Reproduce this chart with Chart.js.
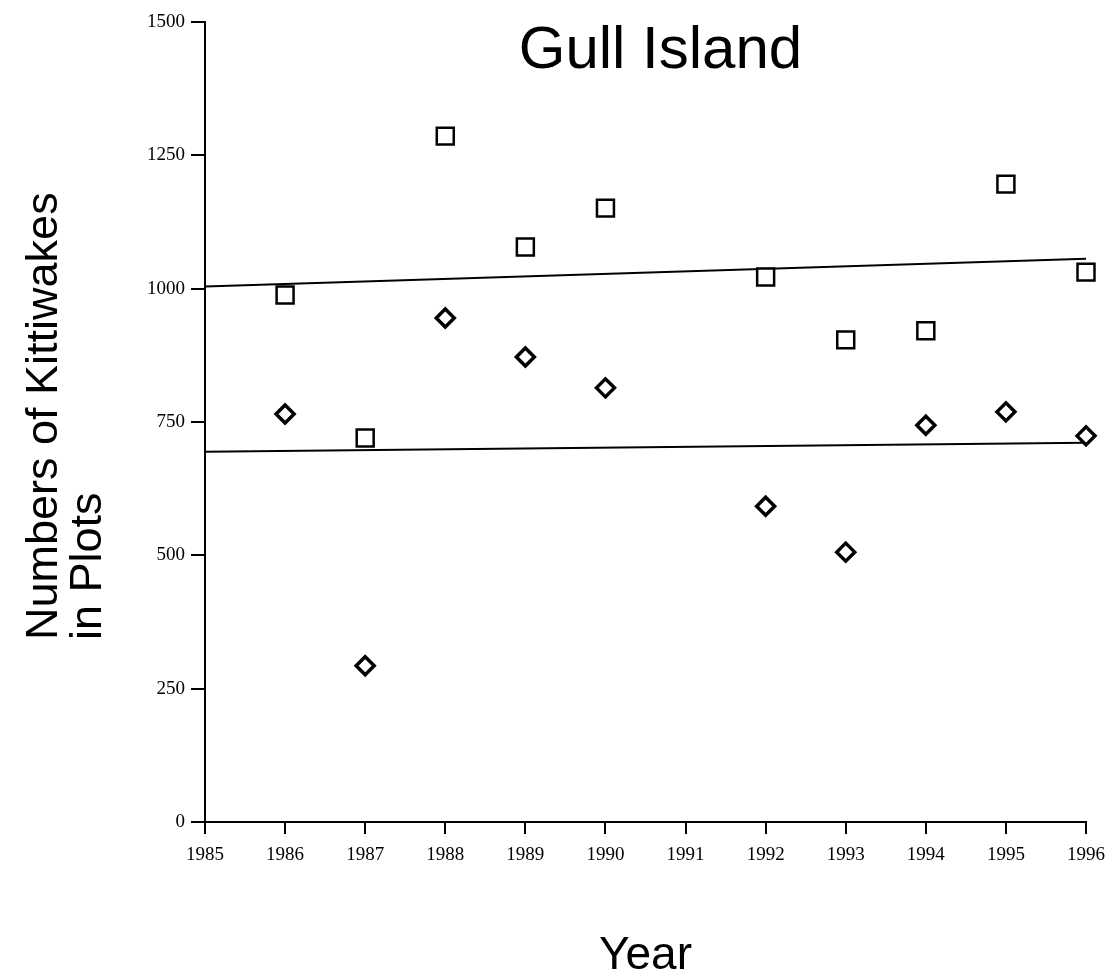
<!DOCTYPE html>
<html>
<head>
<meta charset="utf-8">
<title>Gull Island</title>
<script src="https://cdn.jsdelivr.net/npm/chart.js@4/dist/chart.umd.min.js"></script>
<style>
  html, body { margin: 0; padding: 0; background: #fff; }
  #wrap { width: 1118px; height: 979px; position: relative; }
</style>
</head>
<body>
<div id="wrap"><canvas id="gullChart"></canvas></div>
<script>
// values
const years = [1986, 1987, 1988, 1989, 1990, 1992, 1993, 1994, 1995, 1996];
const squareCounts = [988, 720, 1286, 1078, 1151, 1022, 904, 921, 1196, 1031];
const diamondCounts = [765, 293, 945, 872, 814, 592, 506, 744, 769, 724];

// fitted trend lines, ends at 1985 and 1996
const trendYears = [1985, 1996];
const upperTrend = [1004, 1056];
const lowerTrend = [694, 711];

const chartTitle = "Gull Island";
const yTitleLines = ["Numbers of Kittiwakes", "in Plots"];
const xTitle = "Year";

function toPoints(xs, ys) {
  return xs.map((x, i) => ({ x: x, y: ys[i] }));
}

// title and two-line y label sit inside/outside the plot like the original
const titlesPlugin = {
  id: "gullTitles",
  afterDraw(chart) {
    const ctx = chart.ctx;
    const area = chart.chartArea;
    ctx.save();
    ctx.fillStyle = "#000";
    ctx.font = '60px "Liberation Sans", Arial, sans-serif';
    ctx.textAlign = "center";
    ctx.textBaseline = "alphabetic";
    ctx.fillText(chartTitle, area.left + (area.right - area.left) * 0.517, 68);

    ctx.font = '45px "Liberation Sans", Arial, sans-serif';
    ctx.textAlign = "left";
    ctx.translate(57, 640);
    ctx.rotate(-Math.PI / 2);
    ctx.fillText(yTitleLines[0], 0, 0);
    ctx.fillText(yTitleLines[1], 0, 44);
    ctx.restore();
  },
};

const tickFont = { family: '"Liberation Serif", "Times New Roman", serif', size: 19 };

const ctx = document.getElementById("gullChart").getContext("2d");
const chart = new Chart(ctx, {
  type: "scatter",
  data: {
    datasets: [
      {
        label: "Squares",
        data: toPoints(years, squareCounts),
        pointStyle: "rect",
        pointRadius: 12,
        pointHoverRadius: 12,
        borderWidth: 2.5,
        pointBorderColor: "#000",
        pointBackgroundColor: "#fff",
        clip: false,
      },
      {
        label: "Diamonds",
        data: toPoints(years, diamondCounts),
        pointStyle: "rectRot",
        pointRadius: 9,
        pointHoverRadius: 9,
        borderWidth: 3.5,
        pointBorderColor: "#000",
        pointBackgroundColor: "#fff",
        clip: false,
      },
      {
        label: "Upper trend",
        data: toPoints(trendYears, upperTrend),
        showLine: true,
        borderColor: "#000",
        borderWidth: 2,
        pointRadius: 0,
        clip: false,
      },
      {
        label: "Lower trend",
        data: toPoints(trendYears, lowerTrend),
        showLine: true,
        borderColor: "#000",
        borderWidth: 2,
        pointRadius: 0,
        clip: false,
      },
    ],
  },
  options: {
    responsive: true,
    maintainAspectRatio: false,
    animation: false,
    layout: {
      padding: { top: 22, right: 32, left: 0, bottom: 0 },
    },
    plugins: {
      legend: { display: false },
      tooltip: { enabled: false },
    },
    scales: {
      x: {
        type: "linear",
        min: 1985,
        max: 1996,
        afterFit: (scale) => {
          scale.height = 157;
        },
        ticks: {
          stepSize: 1,
          color: "#000",
          font: tickFont,
          padding: 10,
          maxRotation: 0,
          callback: (value) => String(value),
        },
        grid: {
          drawOnChartArea: false,
          drawTicks: true,
          tickLength: 12,
          color: "#000",
          lineWidth: 2,
        },
        border: { display: true, color: "#000", width: 2 },
        title: {
          display: true,
          text: xTitle,
          color: "#000",
          padding: 0,
          font: { family: '"Liberation Sans", Arial, sans-serif', size: 46, lineHeight: 1 },
        },
      },
      y: {
        min: 0,
        max: 1500,
        afterFit: (scale) => {
          scale.width = 205;
        },
        ticks: {
          stepSize: 250,
          color: "#000",
          font: tickFont,
          padding: 6,
          callback: (value) => String(value),
        },
        grid: {
          drawOnChartArea: false,
          drawTicks: true,
          tickLength: 14,
          color: "#000",
          lineWidth: 2,
        },
        border: { display: true, color: "#000", width: 2 },
      },
    },
  },
  plugins: [titlesPlugin],
});
</script>
</body>
</html>
